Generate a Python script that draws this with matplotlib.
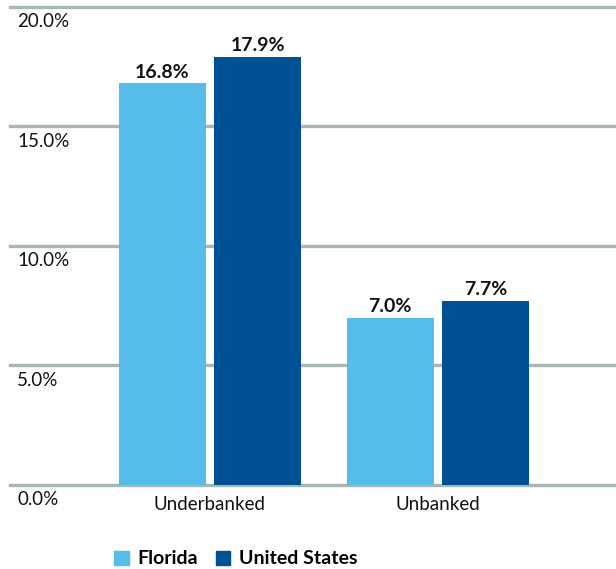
import numpy as np
import matplotlib.pyplot as plt
from matplotlib.patches import Patch

plt.rcParams['font.family'] = ['Lato', 'DejaVu Sans']

categories = ["Underbanked", "Unbanked"]
florida = [16.8, 7.0]
united_states = [17.9, 7.7]
series_names = ["Florida", "United States"]
yticks = [0, 5, 10, 15, 20]

c_fl = "#56BDEA"
c_us = "#005193"
c_grid = "#A9B6B1"

fig = plt.figure(figsize=(6.16, 5.69), dpi=100)
ax = fig.add_axes([10 / 616, 1 - 485 / 569, 606 / 616, 485 / 569])

x = np.arange(len(categories))
w = 0.382
off = 0.21
ax.bar(x - off, florida, width=w, color=c_fl, zorder=3)
ax.bar(x + off, united_states, width=w, color=c_us, zorder=3)

for xi, v in zip(x - off, florida):
    ax.text(xi, v + 0.12, f"{v:.1f}%", ha="center", va="bottom",
            fontsize=14, fontweight="bold", color="#111111", zorder=4)
for xi, v in zip(x + off, united_states):
    ax.text(xi, v + 0.12, f"{v:.1f}%", ha="center", va="bottom",
            fontsize=14, fontweight="bold", color="#111111", zorder=4)

# gridlines with labels sitting just under each line
for t in yticks:
    ax.axhline(t, color=c_grid, lw=2.4, zorder=1, clip_on=False)
    ax.text(0.012, t - 0.27, f"{t:.1f}%", transform=ax.get_yaxis_transform(),
            ha="left", va="top", fontsize=13.5, color="#111111")

ax.set_xlim(-0.877, 1.781)
ax.set_ylim(0, 20.29)
ax.set_xticks(x)
ax.set_xticklabels(categories, fontsize=13.5, color="#111111")
ax.tick_params(axis="x", length=0, pad=8)
ax.set_yticks([])
for s in ax.spines.values():
    s.set_visible(False)

handles = [Patch(color=c_fl), Patch(color=c_us)]
leg = fig.legend(handles, series_names, loc="center", bbox_to_anchor=(236 / 616, 1 - 559 / 569),
                 ncol=2, frameon=False, handlelength=0.75, handleheight=0.75,
                 handletextpad=0.45, columnspacing=0.9,
                 prop={"weight": "bold", "size": 14})

fig.savefig("out.png", dpi=100)
